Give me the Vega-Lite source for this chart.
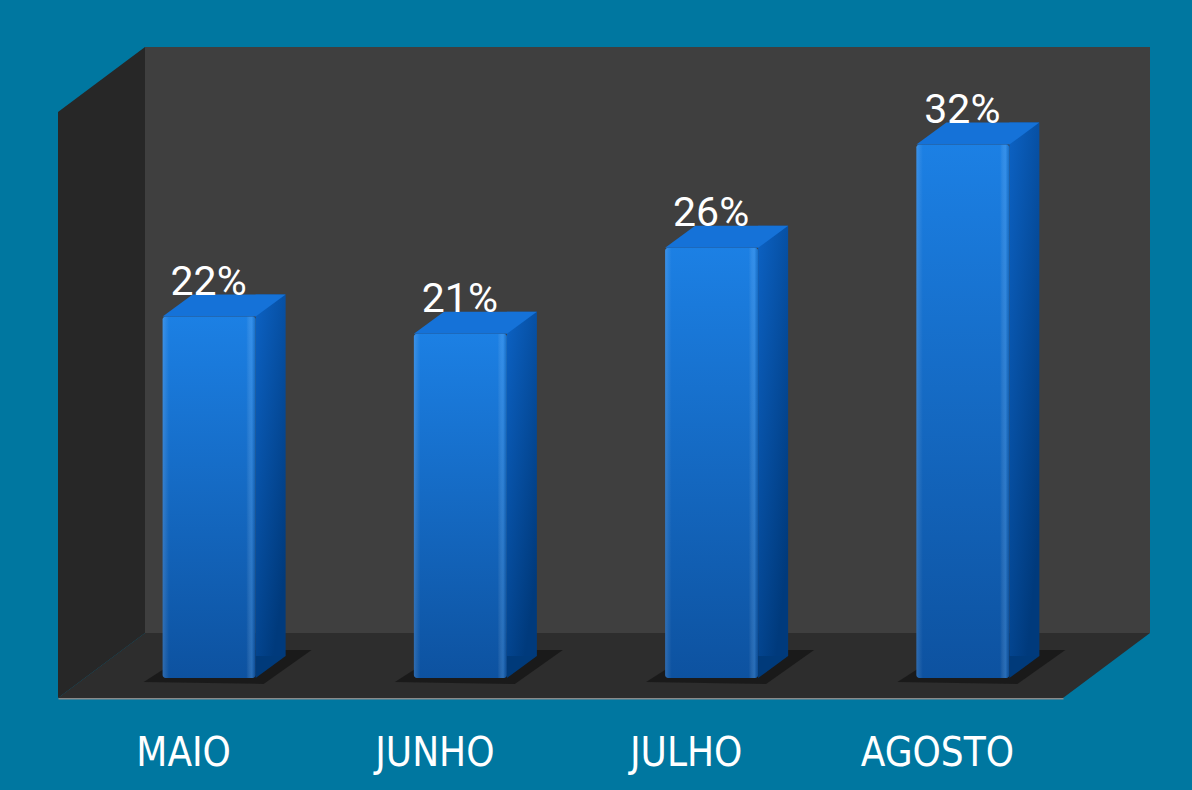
{
  "$schema": "https://vega.github.io/schema/vega-lite/v6.json",
  "width": 1005,
  "height": 586,
  "autosize": {"type": "none"},
  "padding": {"left": 58, "top": 112, "right": 129, "bottom": 92},
  "background": "#0077A0",
  "config": {
    "view": {"stroke": null},
    "axisX": {
      "labelAngle": 0,
      "labelFont": "DejaVu Sans Condensed",
      "labelFontSize": 40,
      "labelColor": "#ffffff",
      "labelBaseline": "alphabetic",
      "labelPadding": 67,
      "ticks": false,
      "tickSize": 0,
      "domainColor": "#8a8a8a",
      "domainWidth": 2,
      "grid": false,
      "zindex": 1
    }
  },
  "data": {
    "values": [
      {"mes": "MAIO", "pct": 0.22},
      {"mes": "JUNHO", "pct": 0.21},
      {"mes": "JULHO", "pct": 0.26},
      {"mes": "AGOSTO", "pct": 0.32}
    ]
  },
  "layer": [
    {
      "data": {"values": [{}]},
      "mark": {"type": "rect", "fill": "#3f3f3f", "xOffset": 87, "x2Offset": 87, "yOffset": -65, "y2Offset": -65},
      "encoding": {
        "x": {"value": 0},
        "x2": {"value": "width"},
        "y": {"value": 0},
        "y2": {"value": "height"}
      }
    },
    {
      "data": {"values": [{}]},
      "mark": {"type": "point", "shape": "M 0 0 L 1005 0 L 1092 -65 L 87 -65 Z", "size": 4, "filled": true, "fill": "#2d2d2d", "opacity": 1, "strokeWidth": 0},
      "encoding": {
        "x": {"value": 0},
        "y": {"value": "height"}
      }
    },
    {
      "data": {"values": [{}]},
      "mark": {"type": "point", "shape": "M 0 0 L 87 -65 L 87 521 L 0 586 Z", "size": 4, "filled": true, "fill": "#272727", "opacity": 1, "strokeWidth": 0},
      "encoding": {
        "x": {"value": 0},
        "y": {"value": 0}
      }
    },
    {
      "mark": {"type": "point", "shape": "M -40 -16 L 80 -14 L 128 -48 L 10 -48 Z", "size": 4, "filled": true, "fill": "#111111", "opacity": 0.65, "strokeWidth": 0},
      "encoding": {
        "x": {"field": "mes", "type": "nominal", "sort": null, "scale": {"paddingInner": 0, "paddingOuter": 0}, "title": null},
        "y": {"datum": 0, "type": "quantitative", "scale": {"domain": [0, 0.3407], "nice": false}, "axis": null}
      }
    },
    {
      "mark": {
        "type": "bar", "width": 30, "xOffset": 87, "yOffset": -25, "y2Offset": -42,
        "color": {"gradient": "linear", "x1": 0, "y1": 0, "x2": 0.6, "y2": 1,
          "stops": [{"offset": 0, "color": "#0c62c4"}, {"offset": 1, "color": "#003a7c"}]}
      },
      "encoding": {
        "x": {"field": "mes", "type": "nominal", "sort": null, "scale": {"paddingInner": 0, "paddingOuter": 0}, "title": null},
        "y": {"field": "pct", "type": "quantitative", "scale": {"domain": [0, 0.3407], "nice": false}, "axis": null},
        "y2": {"datum": 0}
      }
    },
    {
      "mark": {"type": "point", "shape": "M 72 -42 L 72 -20 L 102 -42 Z", "size": 4, "filled": true, "fill": "#003a7a", "opacity": 1, "strokeWidth": 0},
      "encoding": {
        "x": {"field": "mes", "type": "nominal", "sort": null, "scale": {"paddingInner": 0, "paddingOuter": 0}, "title": null},
        "y": {"datum": 0, "type": "quantitative", "scale": {"domain": [0, 0.3407], "nice": false}, "axis": null}
      }
    },
    {
      "mark": {
        "type": "bar", "width": 93, "xOffset": 25.5, "yOffset": -3, "y2Offset": -20, "cornerRadius": 3,
        "color": {"gradient": "linear", "x1": 0, "y1": 0, "x2": 0, "y2": 1,
          "stops": [{"offset": 0, "color": "#1c80e4"}, {"offset": 1, "color": "#0d52a0"}]}
      },
      "encoding": {
        "x": {"field": "mes", "type": "nominal", "sort": null, "scale": {"paddingInner": 0, "paddingOuter": 0}, "title": null},
        "y": {"field": "pct", "type": "quantitative", "scale": {"domain": [0, 0.3407], "nice": false}, "axis": null},
        "y2": {"datum": 0}
      }
    },
    {
      "mark": {
        "type": "bar", "width": 93, "xOffset": 25.5, "yOffset": -3, "y2Offset": -20, "cornerRadius": 3,
        "color": {"gradient": "linear", "x1": 0, "y1": 0, "x2": 1, "y2": 0,
          "stops": [
            {"offset": 0, "color": "rgba(255,255,255,0.14)"},
            {"offset": 0.07, "color": "rgba(255,255,255,0)"},
            {"offset": 0.9, "color": "rgba(255,255,255,0)"},
            {"offset": 0.96, "color": "rgba(120,190,255,0.25)"},
            {"offset": 1, "color": "rgba(0,40,90,0.2)"}
          ]}
      },
      "encoding": {
        "x": {"field": "mes", "type": "nominal", "sort": null, "scale": {"paddingInner": 0, "paddingOuter": 0}, "title": null},
        "y": {"field": "pct", "type": "quantitative", "scale": {"domain": [0, 0.3407], "nice": false}, "axis": null},
        "y2": {"datum": 0}
      }
    },
    {
      "mark": {"type": "point", "shape": "M -21 -3 L 72 -3 L 102 -25 L 9 -25 Z", "size": 4, "filled": true, "fill": "#1572d8", "opacity": 1, "strokeWidth": 0},
      "encoding": {
        "x": {"field": "mes", "type": "nominal", "sort": null, "scale": {"paddingInner": 0, "paddingOuter": 0}, "title": null},
        "y": {"field": "pct", "type": "quantitative", "scale": {"domain": [0, 0.3407], "nice": false}, "axis": null}
      }
    },
    {
      "mark": {"type": "text", "font": "Roboto", "fontSize": 41, "color": "#ffffff", "dx": 25, "dy": -25, "baseline": "alphabetic", "align": "center"},
      "encoding": {
        "x": {"field": "mes", "type": "nominal", "sort": null, "scale": {"paddingInner": 0, "paddingOuter": 0}, "title": null},
        "y": {"field": "pct", "type": "quantitative", "scale": {"domain": [0, 0.3407], "nice": false}, "axis": null},
        "text": {"field": "pct", "type": "quantitative", "format": ".0%"}
      }
    }
  ]
}
